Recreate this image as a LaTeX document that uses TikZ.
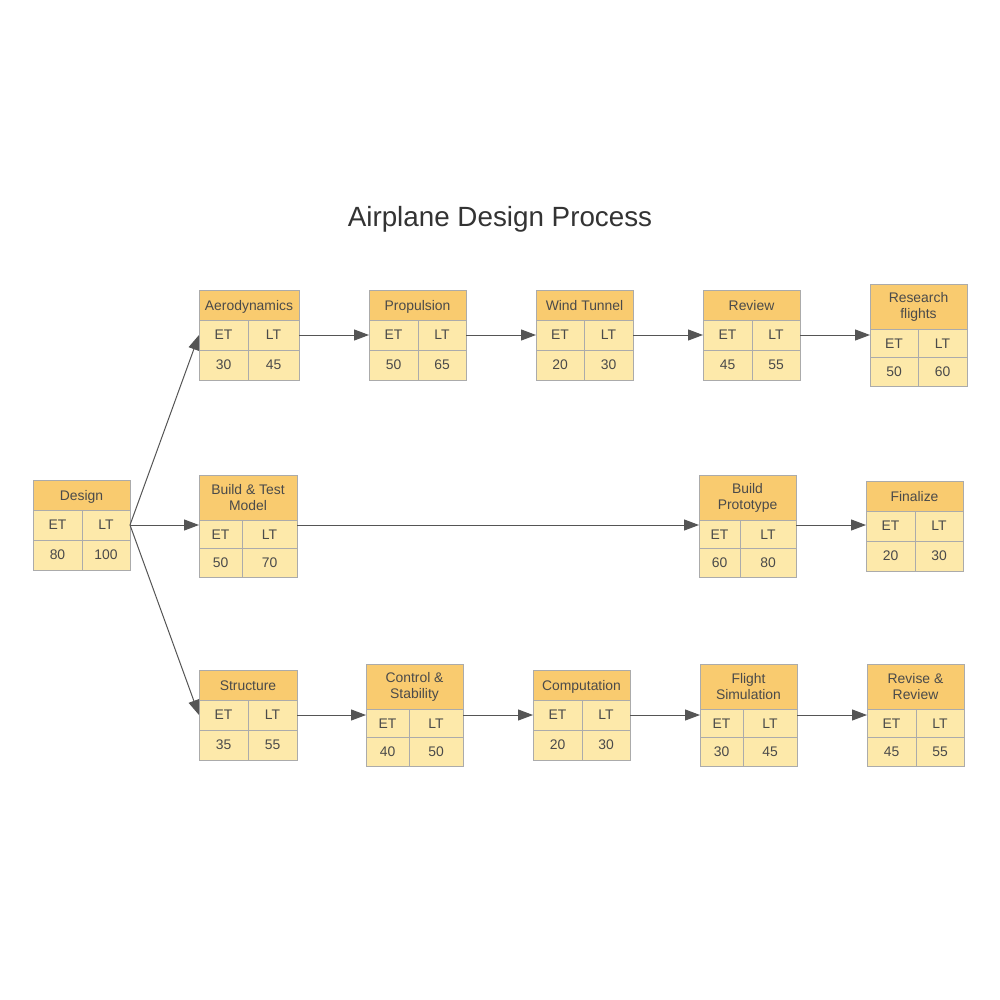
\documentclass[tikz,border=0pt]{standalone}
\usepackage{fontspec}
\setmainfont{Liberation Sans}
\usetikzlibrary{arrows.meta}
\definecolor{hdrC}{HTML}{F9CB6F}
\definecolor{cellC}{HTML}{FDE9AA}
\definecolor{bordC}{HTML}{ABABAB}
\definecolor{txtC}{HTML}{4A4A4A}
\definecolor{lineC}{HTML}{555555}
\definecolor{titleC}{HTML}{333333}
\tikzset{
  cell/.style={draw=bordC, line width=0.9pt, fill=cellC, inner sep=0pt, outer sep=0pt,
    anchor=north west, text=txtC, font=\fontsize{13.9}{16}\selectfont},
  hdrtwo/.style={cell, fill=hdrC, align=center},
  hdrone/.style={cell, fill=hdrC, text height=10pt, text depth=0pt},
  boxframe/.style={inner sep=0pt, outer sep=0pt, anchor=north west},
  arr/.style={draw=lineC, line width=1pt, -{Triangle[length=15pt,width=11pt]}},
  titletext/.style={text=titleC, font=\fontsize{27.8}{32}\selectfont, anchor=base, inner sep=0pt},
}
% name, left, top, width, header height, split, header, ET, LT
\newcommand\pertbox[9]{%
  \pgfmathsetmacro\rowh{#5>40 ? 28.5 : 30}%
  \pgfmathsetmacro\totalh{#5+2*\rowh}%
  \pgfmathsetmacro\rw{#4-#6}%
  \ifdim #5pt>40pt \tikzset{hdrcur/.style={hdrtwo}}\else\tikzset{hdrcur/.style={hdrone}}\fi
  \node[boxframe, minimum width=#4pt, minimum height=\totalh pt] (#1) at (#2,#3) {};
  \node[hdrcur, minimum width=#4pt, minimum height=#5pt] (#1-h) at (#1.north west) {#7};
  \node[boxframe, minimum width=#4pt, minimum height=\rowh pt] (#1-r) at (#1-h.south west) {};
  \node[cell, minimum width=#6pt, minimum height=\rowh pt] (#1-et) at (#1-r.north west) {ET};
  \node[cell, minimum width=\rw pt, minimum height=\rowh pt] (#1-lt) at (#1-et.north east) {LT};
  \node[cell, minimum width=#6pt, minimum height=\rowh pt] (#1-ev) at (#1-et.south west) {#8};
  \node[cell, minimum width=\rw pt, minimum height=\rowh pt] (#1-lv) at (#1-lt.south west) {#9};
}
\begin{document}
\begin{tikzpicture}[x=1pt,y=-1pt]
\useasboundingbox[fill=white] (0,0) rectangle (1000,1000);
\node[titletext] (title) at (500,226) {Airplane Design Process};

\pertbox{design}{33}{480}{97}{30}{49}{Design}{80}{100}
% top row
\pertbox{aero}{199}{290}{100}{30}{49}{Aerodynamics}{30}{45}
\pertbox{prop}{369}{290}{97}{30}{49}{Propulsion}{50}{65}
\pertbox{wind}{536}{290}{97}{30}{48}{Wind Tunnel}{20}{30}
\pertbox{review}{703}{290}{97}{30}{49}{Review}{45}{55}
\pertbox{research}{870}{284}{97}{45}{48}{Research\\flights}{50}{60}
% middle row
\pertbox{build}{199}{475}{98}{45}{43}{Build \& Test\\Model}{50}{70}
\pertbox{proto}{699}{475}{97}{45}{41}{Build\\Prototype}{60}{80}
\pertbox{final}{866}{481}{97}{30}{49}{Finalize}{20}{30}
% bottom row
\pertbox{struct}{199}{670}{98}{30}{49}{Structure}{35}{55}
\pertbox{ctrl}{366}{664}{97}{45}{43}{Control \&\\Stability}{40}{50}
\pertbox{comp}{533}{670}{97}{30}{49}{Computation}{20}{30}
\pertbox{flight}{700}{664}{97}{45}{43}{Flight\\Simulation}{30}{45}
\pertbox{revise}{867}{664}{97}{45}{49}{Revise \&\\Review}{45}{55}

% connectors from Design
\draw[arr] (design-r.east) -- (aero-r.west);
\draw[arr] (design-r.east) -- (design-r.east -| build.west);
\draw[arr] (design-r.east) -- (struct-r.west);
% top row
\draw[arr] (aero-r.east) -- (aero-r.east -| prop.west);
\draw[arr] (prop-r.east) -- (prop-r.east -| wind.west);
\draw[arr] (wind-r.east) -- (wind-r.east -| review.west);
\draw[arr] (review-r.east) -- (review-r.east -| research.west);
% middle row
\draw[arr] (build.east |- design-r.east) -- (proto.west |- design-r.east);
\draw[arr] (proto.east |- design-r.east) -- (final.west |- design-r.east);
% bottom row
\draw[arr] (struct-r.east) -- (struct-r.east -| ctrl.west);
\draw[arr] (ctrl.east |- struct-r.east) -- (comp.west |- struct-r.east);
\draw[arr] (comp-r.east) -- (comp-r.east -| flight.west);
\draw[arr] (flight.east |- struct-r.east) -- (revise.west |- struct-r.east);
\end{tikzpicture}
\end{document}
